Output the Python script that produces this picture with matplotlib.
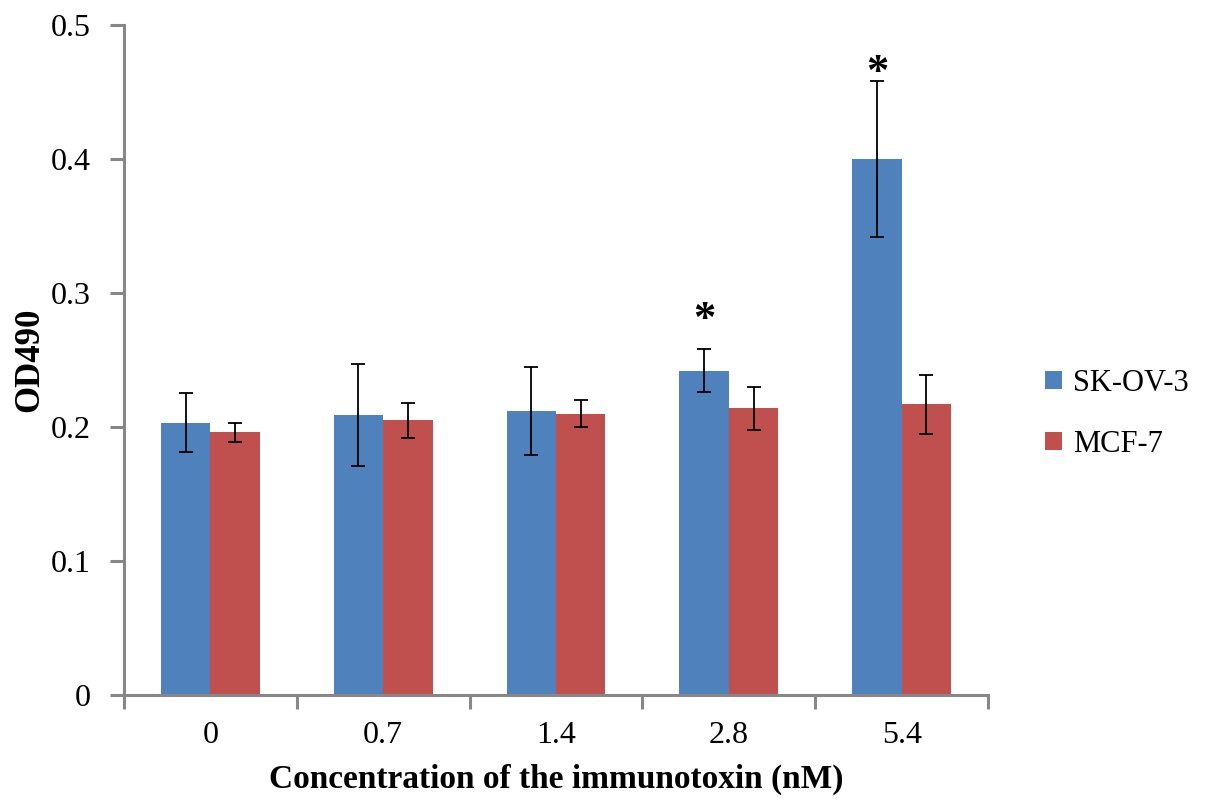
import matplotlib
matplotlib.use("Agg")
import matplotlib.pyplot as plt
import numpy as np

categories = ["0", "0.7", "1.4", "2.8", "5.4"]
sk_ov3 = [0.203, 0.209, 0.212, 0.242, 0.400]
sk_ov3_err = [0.022, 0.038, 0.033, 0.016, 0.058]
mcf7 = [0.196, 0.205, 0.210, 0.214, 0.217]
mcf7_err = [0.007, 0.013, 0.010, 0.016, 0.022]
star_groups = [3, 4]
star_y = [0.280, 0.464]

plt.rcParams['font.family'] = ['Liberation Serif', 'DejaVu Serif']

fig = plt.figure(figsize=(12.07, 7.99), dpi=100)
ax = fig.add_axes([0.1027, 0.1302, 0.7159, 0.8385])

x = np.arange(len(categories))
w = 0.286
blue = '#4F81BD'
red = '#C0504D'
ekw = dict(ecolor='black', elinewidth=1.3, capsize=5, capthick=1.3)
b1 = ax.bar(x - w / 2, sk_ov3, w, color=blue, yerr=sk_ov3_err, error_kw=ekw, label='SK-OV-3', zorder=2)
b2 = ax.bar(x + w / 2, mcf7, w, color=red, yerr=mcf7_err, error_kw=ekw, label='MCF-7', zorder=2)

for g, sy in zip(star_groups, star_y):
    ax.text(g - w / 2, sy, '*', ha='center', va='center', fontsize=32, fontweight='bold')

ax.set_xlim(-0.5, len(categories) - 0.5)
ax.set_ylim(0, 0.5)
ax.set_yticks(np.arange(0, 0.51, 0.1))
ax.set_yticklabels(['0', '0.1', '0.2', '0.3', '0.4', '0.5'])

ax.set_xticks(x)
ax.set_xticklabels(categories)
ax.set_xticks(np.arange(-0.5, len(categories), 1.0), minor=True)
ax.tick_params(axis='x', which='major', length=0, pad=19, labelsize=23)
ax.tick_params(axis='x', which='minor', length=10, width=2.2, color='#878787', direction='out')
ax.tick_params(axis='y', which='major', length=10, width=2.2, color='#878787', direction='out', pad=14, labelsize=23)

for s in ['top', 'right']:
    ax.spines[s].set_visible(False)
for s in ['left', 'bottom']:
    ax.spines[s].set_color('#878787')
    ax.spines[s].set_linewidth(2.2)

ax.set_xlabel('Concentration of the immunotoxin (nM)', fontsize=24, fontweight='bold', labelpad=10)
ax.set_ylabel('OD490', fontsize=25, fontweight='bold', labelpad=3)

leg = fig.legend(handles=[b1, b2], labels=['SK-OV-3', 'MCF-7'], loc='center left',
                 bbox_to_anchor=(0.866, 0.482), frameon=False, fontsize=22,
                 handlelength=0.55, handleheight=0.55, handletextpad=0.35, labelspacing=1.05,
                 borderpad=0, borderaxespad=0)

fig.savefig('out.png', dpi=100)
